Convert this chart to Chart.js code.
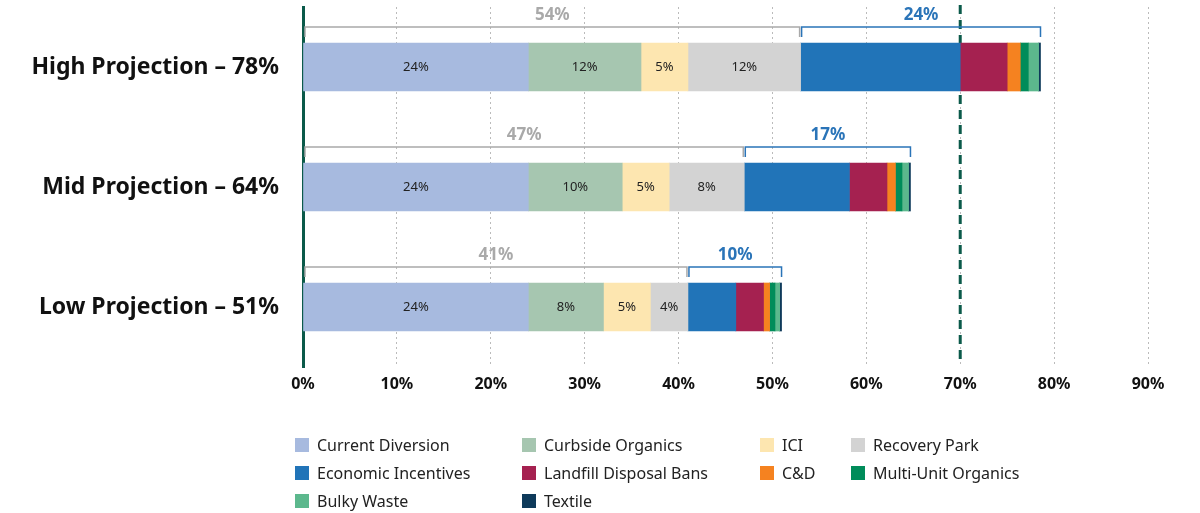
<!DOCTYPE html>
<html>
<head>
<meta charset="utf-8">
<script src="https://cdn.jsdelivr.net/npm/chart.js@4.4.0/dist/chart.umd.min.js"></script>
<style>
  body { margin: 0; background: #fff; font-family: "Noto Sans", sans-serif; }
  #wrap { position: absolute; left: 0; top: 0; width: 1200px; height: 400px; }
  #legend { position: absolute; left: 0; top: 0; width: 1200px; height: 513px; pointer-events: none; }
  .item { position: absolute; font-size: 16px; color: #222; line-height: 20px; white-space: nowrap; }
  .item span { display: inline-block; width: 14px; height: 14px; margin-right: 8px; vertical-align: -1px; }
</style>
</head>
<body>
<div id="wrap"><canvas id="chart"></canvas></div>
<div id="legend"></div>
<script>
// Data
const projections = ['High Projection – 78%', 'Mid Projection – 64%', 'Low Projection – 51%'];
const seriesNames = ['Current Diversion', 'Curbside Organics', 'ICI', 'Recovery Park',
  'Economic Incentives', 'Landfill Disposal Bans', 'C&D', 'Multi-Unit Organics', 'Bulky Waste', 'Textile'];
const currentDiversion = [24, 24, 24];
const curbsideOrganics = [12, 10, 8];
const ici = [5, 5, 5];
const recoveryPark = [12, 8, 4];
const economicIncentives = [17, 11.2, 5.1];
const landfillBans = [5, 4, 2.95];
const cAndD = [1.4, 0.9, 0.65];
const multiUnitOrganics = [0.85, 0.7, 0.57];
const bulkyWaste = [1.1, 0.7, 0.5];
const textile = [0.2, 0.2, 0.2];
const existingTotals = ['54%', '47%', '41%'];
const newTotals = ['24%', '17%', '10%'];
const xTicks = [0, 10, 20, 30, 40, 50, 60, 70, 80, 90];
const target = 70;

const colors = ['#a7badf', '#a6c6b0', '#fde6b0', '#d3d3d3', '#2174b8', '#a52150', '#f58220', '#008c5a', '#5cb88d', '#0e3a5a'];
const allSeries = [currentDiversion, curbsideOrganics, ici, recoveryPark, economicIncentives,
  landfillBans, cAndD, multiUnitOrganics, bulkyWaste, textile];

const datasets = seriesNames.map((name, i) => ({
  label: name,
  data: allSeries[i],
  backgroundColor: colors[i],
  borderWidth: 0,
  barThickness: 48
}));

const overlay = {
  id: 'overlay',
  beforeDatasetsDraw(chart) {
    const { ctx, chartArea, scales: { x } } = chart;
    const px = x.getPixelForValue(target);
    ctx.save();
    ctx.strokeStyle = '#0b5a4a';
    ctx.lineWidth = 3;
    ctx.setLineDash([9, 6]);
    ctx.beginPath();
    ctx.moveTo(px, chartArea.top - 2);
    ctx.lineTo(px, chartArea.bottom - 2);
    ctx.stroke();
    ctx.restore();
  },
  afterDatasetsDraw(chart) {
    const { ctx, scales: { x } } = chart;
    ctx.save();
    // value labels in first four segments
    ctx.font = '13px "Noto Sans"';
    ctx.fillStyle = '#222';
    ctx.textAlign = 'center';
    ctx.textBaseline = 'middle';
    for (let d = 0; d < 4; d++) {
      chart.getDatasetMeta(d).data.forEach((bar, i) => {
        ctx.fillText(Math.round(allSeries[d][i]) + '%', (bar.x + bar.base) / 2, bar.y);
      });
    }
    // brackets over the bars
    const meta0 = chart.getDatasetMeta(0).data;
    projections.forEach((p, i) => {
      let sub = 0, tot = 0;
      allSeries.forEach((s, k) => { if (k < 4) sub += s[i]; tot += s[i]; });
      const x0 = x.getPixelForValue(0) + 2;
      const xm = x.getPixelForValue(sub);
      const x1 = x.getPixelForValue(tot);
      const barTop = meta0[i].y - 24;
      const drawBracket = (a, b, col, txt) => {
        ctx.strokeStyle = col;
        ctx.lineWidth = 1.5;
        ctx.beginPath();
        ctx.moveTo(a, barTop - 6);
        ctx.lineTo(a, barTop - 16);
        ctx.lineTo(b, barTop - 16);
        ctx.lineTo(b, barTop - 6);
        ctx.stroke();
        ctx.fillStyle = col;
        ctx.font = 'bold 17px "Noto Sans"';
        ctx.fillText(txt, (a + b) / 2, barTop - 28);
      };
      drawBracket(x0, xm - 1, '#a9a9a9', existingTotals[i]);
      drawBracket(xm + 1, x1, '#2a74b8', newTotals[i]);
    });
    ctx.restore();
  }
};

const config = {
  type: 'bar',
  data: { labels: projections, datasets: datasets },
  options: {
    indexAxis: 'y',
    responsive: true,
    maintainAspectRatio: false,
    animation: false,
    layout: { padding: { top: 7, right: 52, left: 0, bottom: 0 } },
    plugins: { legend: { display: false }, tooltip: { enabled: false } },
    scales: {
      x: {
        stacked: true,
        min: 0,
        max: 90,
        afterBuildTicks: (scale) => { scale.ticks = xTicks.map(v => ({ value: v })); },
        afterFit: (scale) => { scale.height = 33; },
        ticks: {
          callback: (v) => v + '%',
          color: '#111',
          padding: 8,
          font: { family: 'Noto Sans', size: 16, weight: 'bold' }
        },
        grid: { color: '#bbb', lineWidth: 1, drawTicks: false },
        border: { display: false, dash: [2, 3] }
      },
      y: {
        stacked: true,
        afterFit: (scale) => {
          scale.width = 303;
          scale.paddingTop = 0;
          scale.paddingBottom = 0;
        },
        ticks: {
          color: '#111',
          padding: 24,
          font: { family: 'Noto Sans', size: 23, weight: 'bold' }
        },
        grid: { display: false, drawTicks: false },
        border: { display: true, color: '#0b5a4a', width: 3 }
      }
    }
  },
  plugins: [overlay]
};

const ctx = document.getElementById('chart').getContext('2d');
const chart = new Chart(ctx, config);

// HTML legend in four columns
const legendCols = [295, 522, 760, 851];
const legendRows = [435, 463, 491];
const legend = document.getElementById('legend');
seriesNames.forEach((name, i) => {
  const el = document.createElement('div');
  el.className = 'item';
  el.style.left = legendCols[i % 4] + 'px';
  el.style.top = legendRows[Math.floor(i / 4)] + 'px';
  el.innerHTML = '<span style="background:' + colors[i] + '"></span>' + name.replace('&', '&amp;');
  legend.appendChild(el);
});
</script>
</body>
</html>
